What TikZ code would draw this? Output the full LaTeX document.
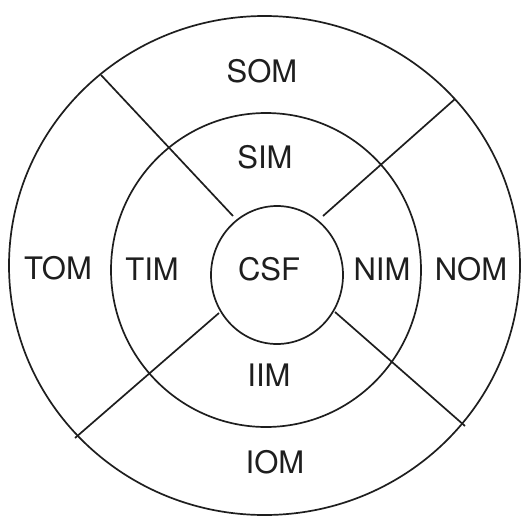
\documentclass[tikz,border=0pt]{standalone}
\usepackage{fontspec}
\setmainfont{TeX Gyre Heros}
\definecolor{ink}{HTML}{1E1E1E}

\begin{document}
\begin{tikzpicture}[x=1pt,y=-1pt,line width=1.7pt,every node/.style={font=\fontsize{31}{36}\selectfont,inner sep=0pt,text=ink}]
 \useasboundingbox (0,0) rectangle (522,517);
 % rings
 \draw[ink] (264.5,265.5) ellipse [x radius=255.5pt,y radius=249.5pt];
 \draw[ink] (266,270) ellipse [x radius=155pt,y radius=157pt];
 \draw[ink] (277,275) ellipse [x radius=66pt,y radius=69pt];
 % sector borders
 \foreach \xa/\ya/\xb/\yb in {101/75/233/216,455/99/323/216,75/438/219/313,465/426/335/312}
   {\draw[ink] (\xa,\ya)--(\xb,\yb);}
 % labels
 \foreach \x/\y/\n in {262/71/SOM,265/157/SIM,58/268/TOM,152/269/TIM,269/269/CSF,
   382/269/NIM,471/269/NOM,269/375/IIM,275/462/IOM}
   {\node (\n) at (\x,\y) {\n};}
\end{tikzpicture}
\end{document}
